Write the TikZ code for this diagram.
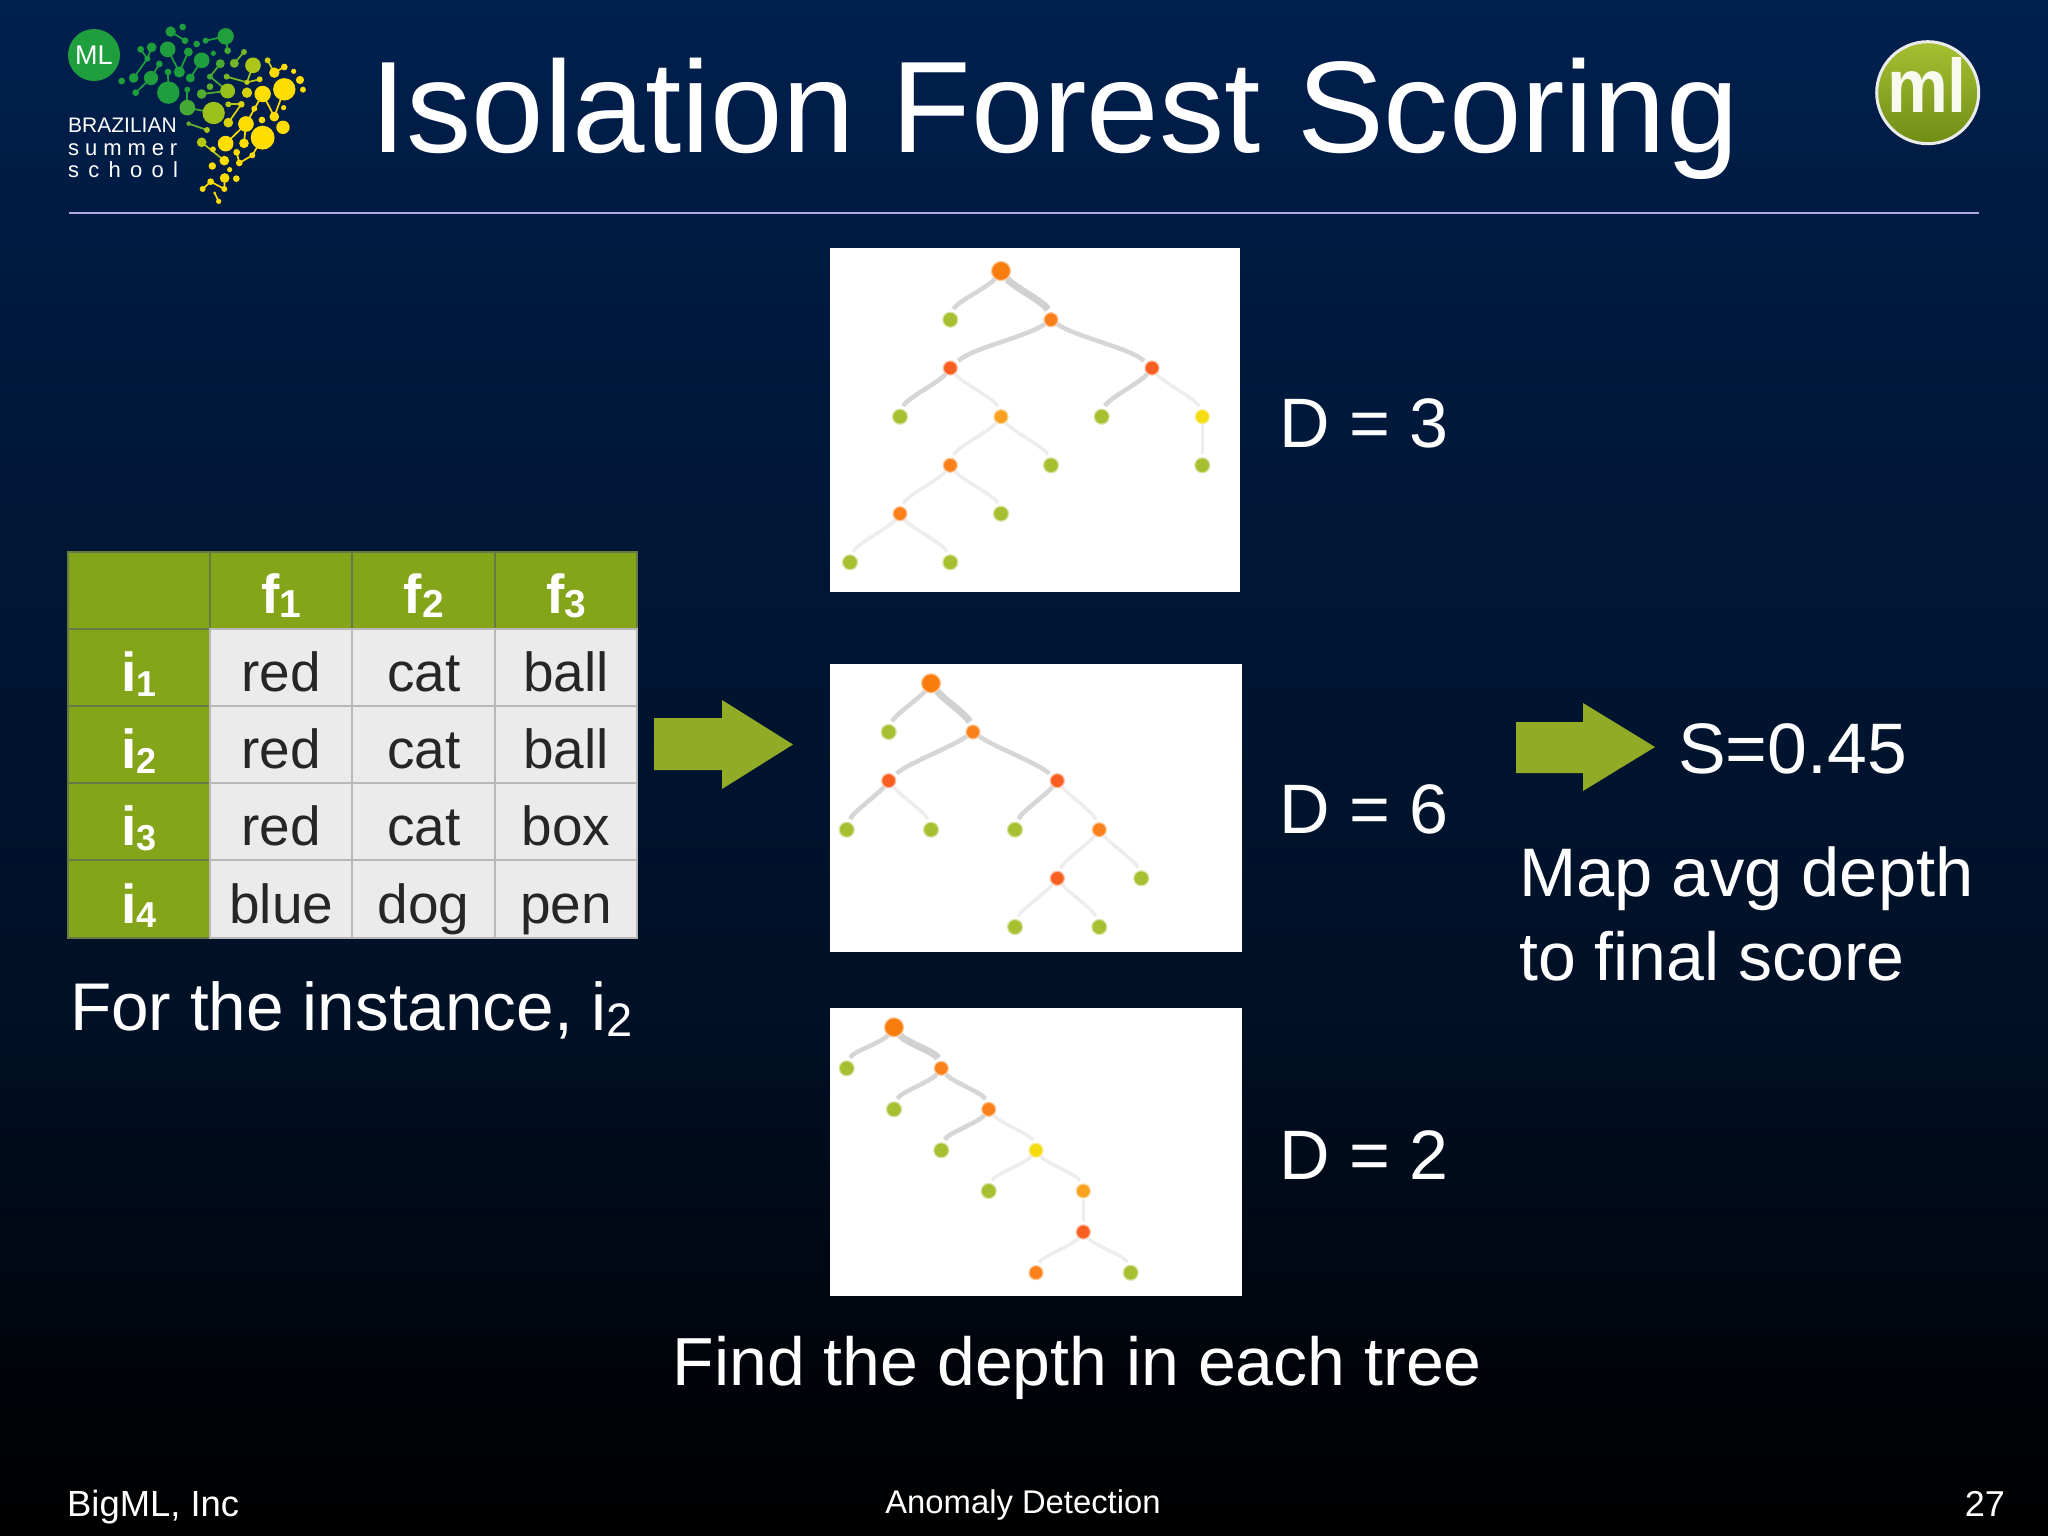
\documentclass[tikz,border=0pt]{standalone}
\usepackage{fontspec}
\setmainfont{Liberation Sans}
\usetikzlibrary{calc}
\newcommand\fsz[1]{\fontsize{#1}{#1}\selectfont}
\newcommand\lowd[2]{\raisebox{-0.09em}{\fsz{#1}#2}}
\definecolor{tablegreen}{HTML}{84A519}
\definecolor{arrowgreen}{HTML}{91AB26}
\definecolor{rootorange}{HTML}{F97D0E}
\definecolor{midorange}{HTML}{F9801A}
\definecolor{redorange}{HTML}{F85E20}
\definecolor{paleorange}{HTML}{F9A21F}
\definecolor{leafgreen}{HTML}{A6C032}
\definecolor{nodeyellow}{HTML}{F5DC10}
\definecolor{dotgreen}{HTML}{1F9E3E}
\definecolor{dotyellow}{HTML}{FFDD00}
\definecolor{headborder}{HTML}{667A45}
\pgfdeclareverticalshading{slidebg}{100bp}{rgb(0bp)=(0,0,0);rgb(25bp)=(0,0,0);rgb(28.5bp)=(0,.008,.02);rgb(35bp)=(0,.035,.085);rgb(42.5bp)=(0,.065,.15);rgb(52.5bp)=(0,.08,.19);rgb(65bp)=(0,.10,.24);rgb(75bp)=(0,.125,.31);rgb(100bp)=(0,.125,.31)}
\tikzset{
  whitetext/.style={text=white,inner sep=0pt,anchor=base west},
  treebox/.style={fill=white},
  dotnode/.style={circle,inner sep=0pt,minimum size=15pt,draw=#1!45,line width=1.2pt,fill=#1},
  rootnode/.style={dotnode=rootorange,minimum size=19pt},
  innernode/.style={dotnode=#1,minimum size=14pt},
  leafnode/.style={dotnode=leafgreen},
  heavy/.style={draw=black!18,line width=7pt,shorten >=3pt},
  medium/.style={draw=black!16,line width=4.5pt,shorten >=3pt},
  faint/.style={draw=black!7,line width=3.5pt,shorten >=3pt},
  goleft/.style={out=232,in=72,looseness=.5},
  goright/.style={out=-52,in=108,looseness=.5},
  wideleft/.style={out=215,in=42,looseness=.6},
  wideright/.style={out=-35,in=138,looseness=.6},
  headcell/.style={draw=headborder,line width=2pt,fill=tablegreen,minimum width=142.5pt,minimum height=77.2pt,inner sep=0pt,text=white,text height=52pt,text depth=4pt,font=\fsz{55}\bfseries},
  toprow/.style={text height=49pt},
  datacell/.style={draw=black!28,line width=2pt,fill=black!8,minimum width=142.5pt,minimum height=77.2pt,inner sep=0pt,text=black!85,text height=52pt,text depth=4pt,font=\fsz{55}},
}
\begin{document}
\begin{tikzpicture}[x=1pt,y=-1pt]
\useasboundingbox (0,0) rectangle (2048,1536);
\shade[shading=slidebg] (0,0) rectangle (2048,1536);

% ---------- left logo
\begin{scope}[shift={(40,0)},x=0.3333pt,y=-0.3333pt]
  \foreach \xa/\ya/\xb/\yb in {392/95/435/122,497/122/557/109,557/109/563/152,612/156/583/190,302/148/322/176,335/142/322/176,322/176/281/234,358/192/333/234,287/278/333/234,383/148/418/216,445/156/418/216,485/181/451/234,384/216/385/278,541/191/510/230,510/230/563/273,560/230/621/247,621/247/659/238,639/196/621/247,683/181/703/218,703/218/733/201,733/268/703/350,668/282/703/350,668/282/618/372,442/269/442/323,442/323/521/339,485/282/563/273,565/313/604/313,604/313/565/368,446/371/501/390,618/372/612/430,618/372/557/431,485/427/553/482,668/413/637/466,637/466/598/489,590/457/598/489,554/534/553/567,512/545/553/567,512/545/488/567,524/579/536/604}{
    \pgfmathsetmacro\pct{max(0,min(100,100-((\xa-430)+0.7*(\ya-100)-130)/2.3))}
    \draw[line width=1.7pt,dotgreen!\pct!dotyellow] (\xa,\ya) -- (\xb,\yb);
  }
  \foreach \xa/\ya/\ra in {392/95/14,428/81/9,435/122/9,470/132/9,497/122/8,557/109/22,563/152/9,520/160/7,612/156/8,583/190/12,302/148/9,335/142/13,322/176/8,383/148/21,445/156/12,485/181/21,541/191/12,358/192/9,245/243/9,281/234/13,333/234/19,287/278/9,384/216/9,418/216/15,451/234/12,510/230/8,560/230/8,639/196/21,683/181/8,703/218/14,733/201/9,761/214/7,780/240/11,789/269/8,733/268/30,659/238/8,621/247/7,385/278/30,442/269/8,485/282/13,510/260/9,563/273/20,621/278/14,668/282/22,442/323/21,521/339/30,565/313/8,604/313/9,643/326/8,731/323/7,703/350/13,666/360/9,729/382/18,446/371/6,501/390/8,565/368/13,618/372/21,668/413/32,485/427/13,519/448/8,557/431/21,612/430/13,590/457/9,637/466/8,598/489/9,553/482/13,517/498/10,569/509/7,554/534/13,589/536/9,512/545/9,488/567/8,553/567/8,524/579/4,536/604/7}{
    \pgfmathsetmacro\pct{max(0,min(100,100-((\xa-430)+0.7*(\ya-100)-130)/2.3))}
    \pgfmathsetmacro\rb{\ra*1.12}
    \fill[dotgreen!\pct!dotyellow] (\xa,\ya) circle[x radius=\rb,y radius=\rb];
  }
\end{scope}
\node[circle,fill=dotgreen,minimum size=52pt,inner sep=0pt,text=white,font=\fsz{27}] (mlbadge) at (94,55) {ML};
\node[whitetext,font=\fsz{21}] (brazilian) at (68,132.7) {BRAZILIAN};
\node[whitetext,font=\fsz{22}] (summer) at (68,156) {\addfontfeature{LetterSpace=27}summer};
\node[whitetext,font=\fsz{22}] (school) at (68,178) {\addfontfeature{LetterSpace=42}school};

% ---------- right logo
\node[circle,draw=black!8,line width=3pt,top color=leafgreen,bottom color=tablegreen!85!black,minimum size=102pt,inner sep=0pt] (mlcircle) at (1927.7,92.7) {};
\node[text=white!92!leafgreen,inner sep=0pt,anchor=base,xscale=.9,font=\fsz{76}\bfseries] (mltext) at (1927,113) {ml};

% ---------- title
\node[whitetext,font=\fsz{130.3}] (title) at (370,153) {Isolation Forest Scoring};
\draw[draw=white!75!blue!90!black,line width=1.5pt] (69,213) -- (1979,213);

% ---------- table
\node[headcell] (c00) at (139,590.5) {};
\node[headcell,toprow] (c01) at (281.3,590.5) {f\lowd{39}{1}};
\node[headcell,toprow] (c02) at (423.7,590.5) {f\lowd{39}{2}};
\node[headcell,toprow] (c03) at (566,590.5) {f\lowd{39}{3}};
\node[headcell] (c10) at (139,667.5) {i\lowd{36}{1}};
\node[datacell] (c11) at (281.3,667.5) {red};
\node[datacell] (c12) at (423.7,667.5) {cat};
\node[datacell] (c13) at (566,667.5) {ball};
\node[headcell] (c20) at (139,744.5) {i\lowd{36}{2}};
\node[datacell] (c21) at (281.3,744.5) {red};
\node[datacell] (c22) at (423.7,744.5) {cat};
\node[datacell] (c23) at (566,744.5) {ball};
\node[headcell] (c30) at (139,821.5) {i\lowd{36}{3}};
\node[datacell] (c31) at (281.3,821.5) {red};
\node[datacell] (c32) at (423.7,821.5) {cat};
\node[datacell] (c33) at (566,821.5) {box};
\node[headcell] (c40) at (139,899) {i\lowd{36}{4}};
\node[datacell] (c41) at (281.3,899) {blue};
\node[datacell] (c42) at (423.7,899) {dog};
\node[datacell] (c43) at (566,899) {pen};

\node[whitetext,font=\fsz{67.5}] (instance) at (70,1030) {For the instance, i\lowd{47}{2}};

% ---------- arrows
\fill[arrowgreen] (654,718) -- (722,718) -- (722,700) -- (793,744.5) -- (722,789) -- (722,770) -- (654,770) -- cycle;
\fill[arrowgreen] (1516,722) -- (1583,722) -- (1583,703) -- (1655,747) -- (1583,791) -- (1583,773) -- (1516,773) -- cycle;

% ---------- tree 1
\fill[treebox] (830,248) rectangle (1240,592);
\node[rootnode] (a0) at (1001,271) {};
\node[leafnode] (a1) at (950.3,319.7) {};
\node[innernode=midorange] (a2) at (1051,319.7) {};
\node[innernode=redorange] (a3) at (950.3,368) {};
\node[innernode=redorange] (a4) at (1152,368) {};
\node[leafnode] (a5) at (900,416.7) {};
\node[innernode=paleorange] (a6) at (1001,416.7) {};
\node[leafnode] (a7) at (1101.7,416.7) {};
\node[innernode=nodeyellow] (a8) at (1202.3,416.7) {};
\node[innernode=midorange] (a9) at (950.3,465.3) {};
\node[leafnode] (a10) at (1051,465.3) {};
\node[leafnode] (a11) at (1202.3,465.3) {};
\node[innernode=midorange] (a12) at (900,513.7) {};
\node[leafnode] (a13) at (1001,513.7) {};
\node[leafnode] (a14) at (850,562.3) {};
\node[leafnode] (a15) at (950.3,562.3) {};
\draw[medium] (a0) to[goleft] (a1);
\draw[heavy] (a0) to[goright] (a2);
\draw[medium] (a2) to[wideleft] (a3);
\draw[medium] (a2) to[wideright] (a4);
\draw[medium] (a3) to[goleft] (a5);
\draw[faint] (a3) to[goright] (a6);
\draw[medium] (a4) to[goleft] (a7);
\draw[faint] (a4) to[goright] (a8);
\draw[faint] (a8) -- (a11);
\draw[faint] (a6) to[goleft] (a9);
\draw[faint] (a6) to[goright] (a10);
\draw[faint] (a9) to[goleft] (a12);
\draw[faint] (a9) to[goright] (a13);
\draw[faint] (a12) to[goleft] (a14);
\draw[faint] (a12) to[goright] (a15);

% ---------- tree 2
\fill[treebox] (830,664) rectangle (1241.7,952);
\node[rootnode] (b0) at (931,683.3) {};
\node[leafnode] (b1) at (888.7,732) {};
\node[innernode=midorange] (b2) at (973,732) {};
\node[innernode=redorange] (b3) at (888.7,780.7) {};
\node[innernode=redorange] (b4) at (1057.3,780.7) {};
\node[leafnode] (b5) at (846.7,829.7) {};
\node[leafnode] (b6) at (931,829.7) {};
\node[leafnode] (b7) at (1015,829.7) {};
\node[innernode=midorange] (b8) at (1099.3,829.7) {};
\node[innernode=redorange] (b9) at (1057.3,878.3) {};
\node[leafnode] (b10) at (1141.3,878.3) {};
\node[leafnode] (b11) at (1015,927) {};
\node[leafnode] (b12) at (1099.3,927) {};
\draw[medium] (b0) to[goleft] (b1);
\draw[heavy] (b0) to[goright] (b2);
\draw[medium] (b2) to[wideleft] (b3);
\draw[medium] (b2) to[wideright] (b4);
\draw[medium] (b3) to[goleft] (b5);
\draw[faint] (b3) to[goright] (b6);
\draw[medium] (b4) to[goleft] (b7);
\draw[faint] (b4) to[goright] (b8);
\draw[faint] (b8) to[goleft] (b9);
\draw[faint] (b8) to[goright] (b10);
\draw[faint] (b9) to[goleft] (b11);
\draw[faint] (b9) to[goright] (b12);

% ---------- tree 3
\fill[treebox] (830,1008) rectangle (1241.7,1295.7);
\node[rootnode] (d0) at (894,1027.3) {};
\node[leafnode] (d1) at (846.7,1068.3) {};
\node[innernode=midorange] (d2) at (941.3,1068.3) {};
\node[leafnode] (d3) at (894,1109.3) {};
\node[innernode=midorange] (d4) at (988.7,1109.3) {};
\node[leafnode] (d5) at (941.3,1150.3) {};
\node[innernode=nodeyellow] (d6) at (1036,1150.3) {};
\node[leafnode] (d7) at (988.7,1191) {};
\node[innernode=paleorange] (d8) at (1083.3,1191) {};
\node[innernode=redorange] (d9) at (1083.3,1232) {};
\node[innernode=midorange] (d10) at (1036,1272.7) {};
\node[leafnode] (d11) at (1130.7,1272.7) {};
\draw[medium] (d0) to[goleft] (d1);
\draw[heavy] (d0) to[goright] (d2);
\draw[medium] (d2) to[goleft] (d3);
\draw[medium] (d2) to[goright] (d4);
\draw[medium] (d4) to[goleft] (d5);
\draw[faint] (d4) to[goright] (d6);
\draw[faint] (d6) to[goleft] (d7);
\draw[faint] (d6) to[goright] (d8);
\draw[faint] (d8) -- (d9);
\draw[faint] (d9) to[goleft] (d10);
\draw[faint] (d9) to[goright] (d11);

% ---------- labels
\node[whitetext,font=\fsz{70}] (d3lab) at (1279,447) {D = 3};
\node[whitetext,font=\fsz{70}] (d6lab) at (1279,833.5) {D = 6};
\node[whitetext,font=\fsz{70}] (d2lab) at (1279,1179) {D = 2};
\node[whitetext,font=\fsz{71.5}] (score) at (1678,773) {S=0.45};
\node[whitetext,font=\fsz{68.7}] (map1) at (1519,896.5) {Map avg depth};
\node[whitetext,font=\fsz{68}] (map2) at (1519,980) {to final score};
\node[whitetext,font=\fsz{68}] (find) at (672.6,1385.5) {Find the depth in each tree};
\node[whitetext,font=\fsz{36.4}] (bigml) at (67,1516) {BigML, Inc};
\node[text=white,inner sep=0pt,anchor=base,font=\fsz{32.8}] (anomaly) at (1023,1513) {Anomaly Detection};
\node[text=white,inner sep=0pt,anchor=base east,font=\fsz{36}] (pagenum) at (2005,1516) {27};
\end{tikzpicture}
\end{document}
